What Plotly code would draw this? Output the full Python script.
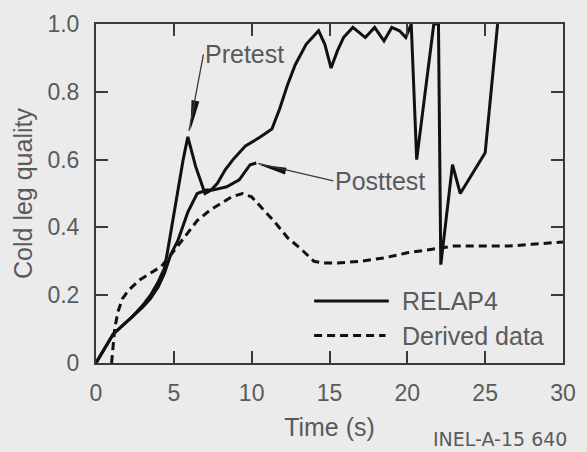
import plotly.graph_objects as go

# RELAP4 pretest prediction: cold leg quality vs time
t_pre = [0, 0.5, 1.1, 1.7, 2.3, 3.0, 3.5, 4.0, 4.4, 4.6, 5.1, 5.6, 5.9, 6.4, 7.0,
         7.4, 7.8, 8.3, 8.8, 9.6, 10.5, 11.3, 11.8, 12.3, 12.8, 13.5, 14.3, 14.7,
         15.1, 15.5, 15.9, 16.5, 17.3, 17.9, 18.5, 19.0, 19.5, 19.9, 20.25, 20.6,
         21.7, 22.0, 22.15, 22.9, 23.4, 25.0, 25.8]
q_pre = [0, 0.04, 0.085, 0.11, 0.135, 0.17, 0.20, 0.24, 0.28, 0.33, 0.47, 0.60, 0.667,
         0.58, 0.50, 0.51, 0.53, 0.57, 0.60, 0.64, 0.665, 0.69, 0.75, 0.82, 0.88,
         0.94, 0.98, 0.94, 0.87, 0.92, 0.96, 0.99, 0.96, 0.99, 0.95, 0.99, 0.98,
         0.96, 1.0, 0.60, 1.0, 1.0, 0.29, 0.585, 0.50, 0.62, 1.0]

# RELAP4 posttest calculation (runs to about 10 s)
t_post = [0, 0.5, 1.1, 1.7, 2.3, 3.0, 3.5, 4.0, 4.4, 4.8, 5.25, 5.9, 6.5, 7.1, 7.5,
          8.4, 9.2, 9.9, 10.3]
q_post = [0, 0.04, 0.085, 0.11, 0.135, 0.165, 0.19, 0.225, 0.265, 0.32, 0.36, 0.445,
          0.50, 0.51, 0.51, 0.52, 0.54, 0.585, 0.59]

# Quality derived from measurements
t_der = [1.0, 1.1, 1.2, 1.4, 1.7, 2.1, 2.8, 3.5, 4.2, 5.0, 5.8, 6.5, 7.3, 8.0, 8.7,
         9.4, 10.0, 10.7, 11.5, 12.3, 13.2, 14.0, 14.6, 15.5, 17.0, 18.5, 20.0,
         21.5, 23.0, 25.0, 26.5, 28.0, 30.0]
q_der = [0, 0.05, 0.10, 0.15, 0.19, 0.215, 0.245, 0.265, 0.285, 0.33, 0.38, 0.42,
         0.45, 0.47, 0.49, 0.50, 0.49, 0.455, 0.415, 0.37, 0.335, 0.30, 0.295,
         0.295, 0.30, 0.31, 0.325, 0.335, 0.345, 0.345, 0.345, 0.35, 0.357]

x_ticks = [0, 5, 10, 15, 20, 25, 30]
y_ticks = [0, 0.2, 0.4, 0.6, 0.8, 1.0]
y_tick_text = ["0", "0.2", "0.4", "0.6", "0.8", "1.0"]

BG = "#ebebeb"
INK = "#111111"
TEXT = "#5a5a5a"
AXIS = "#3a3a3a"
FONT = "Liberation Sans, Arial, sans-serif"

fig = go.Figure()
fig.add_trace(go.Scatter(x=t_pre, y=q_pre, mode="lines",
                         line=dict(color=INK, width=3), name="Pretest"))
fig.add_trace(go.Scatter(x=t_post, y=q_post, mode="lines",
                         line=dict(color=INK, width=3), name="Posttest"))
fig.add_trace(go.Scatter(x=t_der, y=q_der, mode="lines",
                         line=dict(color=INK, width=3, dash="8px,5px"),
                         name="Derived data"))

# pretest peak (before the dip at 7 s) and end of posttest run
early = [i for i, t in enumerate(t_pre) if t < 7]
i_peak = max(early, key=lambda i: q_pre[i])
peak_t, peak_q = t_pre[i_peak], q_pre[i_peak]
end_t, end_q = t_post[-1], q_post[-1]

axis_common = dict(
    showline=True, linecolor=AXIS, linewidth=2, mirror="ticks",
    ticks="inside", ticklen=12, tickwidth=2, tickcolor=AXIS,
    showgrid=False, zeroline=False,
    tickfont=dict(family=FONT, size=23, color=TEXT),
)

fig.update_layout(
    width=587, height=452,
    margin=dict(l=96, r=11, t=19, b=89),
    paper_bgcolor=BG, plot_bgcolor=BG,
    showlegend=False,
    font=dict(family=FONT, color=TEXT),
    xaxis=dict(range=[0, 30], tickvals=x_ticks, ticklabelstandoff=8,
               title=dict(text="Time (s)", font=dict(family=FONT, size=25, color=TEXT),
                          standoff=14),
               **axis_common),
    yaxis=dict(range=[0, 1], tickvals=y_ticks, ticktext=y_tick_text,
               ticklabelstandoff=10,
               title=dict(text="Cold leg quality", font=dict(family=FONT, size=25, color=TEXT),
                          standoff=8),
               **axis_common),
)

label_font = dict(family=FONT, size=25, color=TEXT)
fig.add_annotation(x=peak_t, y=peak_q, text="Pretest", showarrow=True,
                   arrowhead=0, arrowwidth=1.3, arrowcolor=AXIS, standoff=6,
                   ax=15.6, ay=-82.6, xanchor="left", yanchor="middle",
                   font=label_font)
fig.add_annotation(x=end_t, y=end_q, text="Posttest", showarrow=True,
                   arrowhead=0, arrowwidth=1.3, arrowcolor=AXIS, standoff=2,
                   ax=77, ay=18, xanchor="left", yanchor="middle",
                   font=label_font)

# dart-shaped arrowheads at the pointer tips
fig.add_shape(type="path", xref="x", yref="y", xsizemode="pixel", ysizemode="pixel",
              xanchor=peak_t, yanchor=peak_q,
              path="M2.6,6.6 L11.5,35.5 L3.7,36.9 Z",
              fillcolor=INK, line=dict(width=0))
fig.add_shape(type="path", xref="x", yref="y", xsizemode="pixel", ysizemode="pixel",
              xanchor=end_t, yanchor=end_q,
              path="M2.2,-1.5 L30.2,-4.8 L28.6,-11.6 Z",
              fillcolor=INK, line=dict(width=0))

# legend drawn inside the plot
fig.add_shape(type="line", xref="paper", yref="paper", x0=0.467, x1=0.627,
              y0=0.183, y1=0.183, line=dict(color=INK, width=3))
fig.add_shape(type="line", xref="paper", yref="paper", x0=0.467, x1=0.62,
              y0=0.081, y1=0.081, line=dict(color=INK, width=3, dash="8px,5px"))
fig.add_annotation(xref="paper", yref="paper", x=0.65, y=0.183, text="RELAP4",
                   showarrow=False, xanchor="left", yanchor="middle", font=label_font)
fig.add_annotation(xref="paper", yref="paper", x=0.65, y=0.081, text="Derived data",
                   showarrow=False, xanchor="left", yanchor="middle", font=label_font)

fig.add_annotation(xref="paper", yref="paper", x=1.0125, y=-0.224, text="INEL-A-15 640",
                   showarrow=False, xanchor="right", yanchor="middle",
                   font=dict(family="DejaVu Sans, sans-serif", size=19, color=TEXT))

fig.write_html("out.html")
